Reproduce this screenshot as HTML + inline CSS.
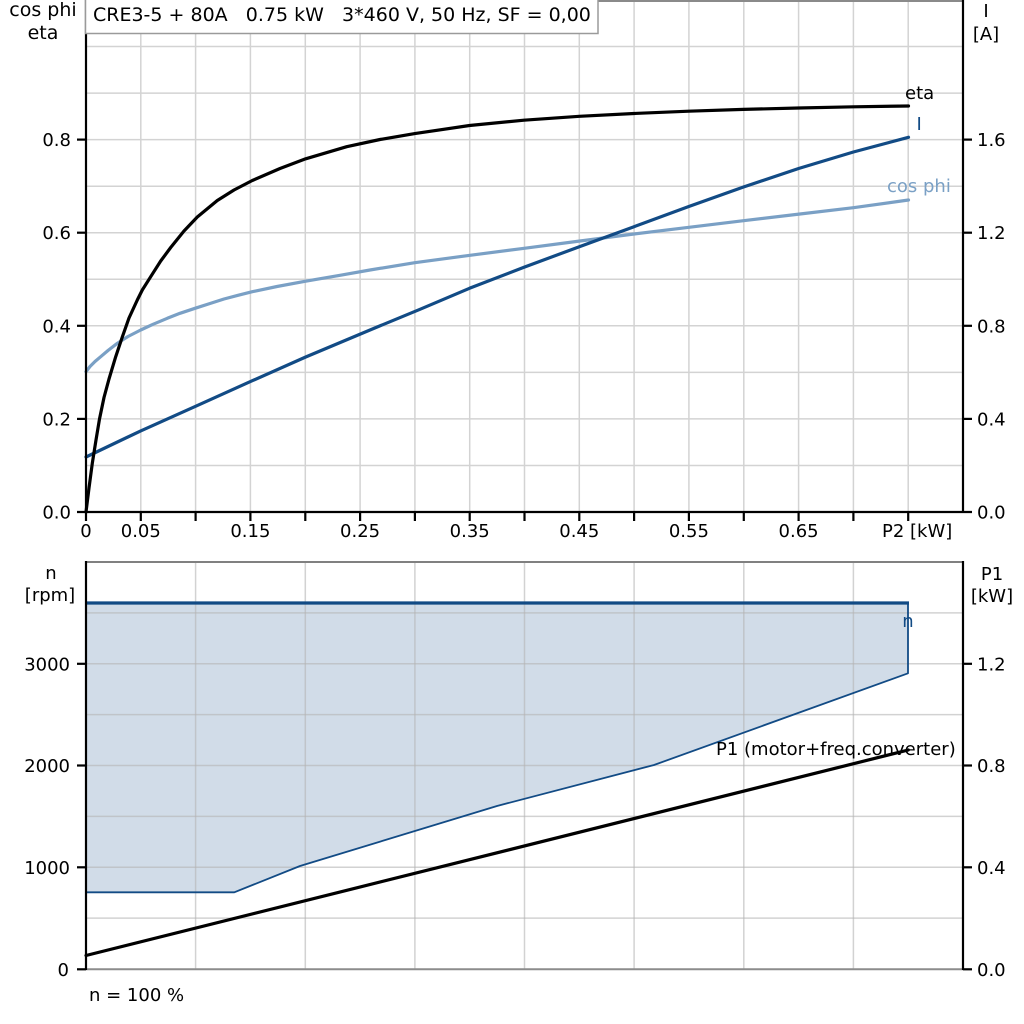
<!DOCTYPE html>
<html>
<head>
<meta charset="utf-8">
<style>
  html, body { margin:0; padding:0; background:#fff; }
  svg { display:block; }
  text { font-family: "DejaVu Sans", "Liberation Sans", sans-serif; font-size:18px; fill:#000; }
</style>
</head>
<body>
<svg width="1024" height="1024" viewBox="0 0 1024 1024" xmlns="http://www.w3.org/2000/svg">
  <rect x="0" y="0" width="1024" height="1024" fill="#fff"/>

  <!-- ================= TOP PANEL ================= -->
  <g stroke="#d3d3d3" stroke-width="1.5" fill="none">
    <line x1="140.8" y1="0" x2="140.8" y2="512"/>
    <line x1="195.6" y1="0" x2="195.6" y2="512"/>
    <line x1="250.4" y1="0" x2="250.4" y2="512"/>
    <line x1="305.3" y1="0" x2="305.3" y2="512"/>
    <line x1="360.1" y1="0" x2="360.1" y2="512"/>
    <line x1="414.9" y1="0" x2="414.9" y2="512"/>
    <line x1="469.7" y1="0" x2="469.7" y2="512"/>
    <line x1="524.5" y1="0" x2="524.5" y2="512"/>
    <line x1="579.3" y1="0" x2="579.3" y2="512"/>
    <line x1="634.1" y1="0" x2="634.1" y2="512"/>
    <line x1="688.9" y1="0" x2="688.9" y2="512"/>
    <line x1="743.8" y1="0" x2="743.8" y2="512"/>
    <line x1="798.6" y1="0" x2="798.6" y2="512"/>
    <line x1="853.4" y1="0" x2="853.4" y2="512"/>
    <line x1="908.2" y1="0" x2="908.2" y2="512"/>

    <line x1="86" y1="465.5" x2="963" y2="465.5"/>
    <line x1="86" y1="418.9" x2="963" y2="418.9"/>
    <line x1="86" y1="372.4" x2="963" y2="372.4"/>
    <line x1="86" y1="325.8" x2="963" y2="325.8"/>
    <line x1="86" y1="279.3" x2="963" y2="279.3"/>
    <line x1="86" y1="232.7" x2="963" y2="232.7"/>
    <line x1="86" y1="186.2" x2="963" y2="186.2"/>
    <line x1="86" y1="139.6" x2="963" y2="139.6"/>
    <line x1="86" y1="93.1" x2="963" y2="93.1"/>
    <line x1="86" y1="46.5" x2="963" y2="46.5"/>
  </g>
  <line x1="598" y1="1" x2="963" y2="1" stroke="#8a8a8a" stroke-width="2"/>

  <!-- cos phi -->
  <polyline fill="none" stroke="#7aa0c5" stroke-width="3.2" stroke-linejoin="round" stroke-linecap="round"
    points="86,371.7 90,366.5 95,361.5 100.7,356.7 108,350.5 117.3,343.3 128,336.5 140.7,330 153,324.3 167.3,318.3 180,313.3 195,308.3 210,303.5 224,299 238,295.3 252.3,291.7 277,286.5 305.7,281.2 340,275.3 370,270 414.8,262.7 470,255.3 524.2,248.3 580,241 634,234 690,227.2 743.5,220.7 800,214 853.4,207.7 908.5,200"/>

  <!-- I -->
  <polyline fill="none" stroke="#124b85" stroke-width="3.2" stroke-linejoin="round" stroke-linecap="round"
    points="86,457 140.7,430.9 195,406.6 252.3,380.7 305.7,357 370,330 420,309.3 469.5,288.3 524,267.3 579.3,246.7 634,226.7 688.8,206.5 743.5,187 798.6,168.5 853.4,152 908.5,137.3"/>

  <!-- eta -->
  <polyline fill="none" stroke="#000" stroke-width="3.2" stroke-linejoin="round" stroke-linecap="round"
    points="86,512 89,488 92.3,463.3 96,440 99.5,419 104,397.5 109,379 115.7,356.7 122.3,337 129,318 137.3,300 142.3,290 150.7,276.7 160.7,261 170.7,247.5 184,231 197.3,217 217.3,200.5 234,190 252.3,180.5 280,168.5 305.7,158.8 346.7,146.7 380,139.5 414.8,133.6 469.5,125.5 524,120.2 579.3,116.3 634,113.5 688.8,111.2 743.5,109.4 798.6,108 853.4,106.8 908.5,106"/>

  <!-- axes -->
  <g stroke="#000" stroke-width="2.2" fill="none">
    <line x1="86" y1="0" x2="86" y2="513"/>
    <line x1="963" y1="0" x2="963" y2="513"/>
    <line x1="77" y1="512" x2="972" y2="512"/>
    <line x1="77" y1="418.9" x2="86" y2="418.9"/>
    <line x1="77" y1="325.8" x2="86" y2="325.8"/>
    <line x1="77" y1="232.7" x2="86" y2="232.7"/>
    <line x1="77" y1="139.6" x2="86" y2="139.6"/>
    <line x1="963" y1="418.9" x2="972" y2="418.9"/>
    <line x1="963" y1="325.8" x2="972" y2="325.8"/>
    <line x1="963" y1="232.7" x2="972" y2="232.7"/>
    <line x1="963" y1="139.6" x2="972" y2="139.6"/>
    <line x1="86" y1="512" x2="86" y2="521"/>
    <line x1="140.8" y1="512" x2="140.8" y2="521"/>
    <line x1="195.6" y1="512" x2="195.6" y2="521"/>
    <line x1="250.4" y1="512" x2="250.4" y2="521"/>
    <line x1="305.3" y1="512" x2="305.3" y2="521"/>
    <line x1="360.1" y1="512" x2="360.1" y2="521"/>
    <line x1="414.9" y1="512" x2="414.9" y2="521"/>
    <line x1="469.7" y1="512" x2="469.7" y2="521"/>
    <line x1="524.5" y1="512" x2="524.5" y2="521"/>
    <line x1="579.3" y1="512" x2="579.3" y2="521"/>
    <line x1="634.1" y1="512" x2="634.1" y2="521"/>
    <line x1="688.9" y1="512" x2="688.9" y2="521"/>
    <line x1="743.8" y1="512" x2="743.8" y2="521"/>
    <line x1="798.6" y1="512" x2="798.6" y2="521"/>
    <line x1="853.4" y1="512" x2="853.4" y2="521"/>
    <line x1="908.2" y1="512" x2="908.2" y2="521"/>
  </g>

  <!-- title box -->
  <rect x="85.5" y="-1" width="512.5" height="34.5" fill="#fff" stroke="#9a9a9a" stroke-width="1.5"/>
  <text x="93" y="21" style="white-space:pre; font-size:19px">CRE3-5 + 80A   0.75 kW   3*460 V, 50 Hz, SF = 0,00</text>

  <!-- top panel axis titles -->
  <text x="43" y="16" text-anchor="middle" style="font-size:19px">cos phi</text>
  <text x="43" y="39" text-anchor="middle" style="font-size:19px">eta</text>
  <text x="986" y="17" text-anchor="middle">I</text>
  <text x="986" y="40" text-anchor="middle">[A]</text>

  <g text-anchor="end">
    <text x="71" y="518.5">0.0</text>
    <text x="71" y="425.4">0.2</text>
    <text x="71" y="332.3">0.4</text>
    <text x="71" y="239.2">0.6</text>
    <text x="71" y="146.1">0.8</text>
  </g>
  <g>
    <text x="977" y="518.5">0.0</text>
    <text x="977" y="425.4">0.4</text>
    <text x="977" y="332.3">0.8</text>
    <text x="977" y="239.2">1.2</text>
    <text x="977" y="146.1">1.6</text>
  </g>
  <g text-anchor="middle">
    <text x="86" y="537">0</text>
    <text x="140.8" y="537">0.05</text>
    <text x="250.4" y="537">0.15</text>
    <text x="360.1" y="537">0.25</text>
    <text x="469.7" y="537">0.35</text>
    <text x="579.3" y="537">0.45</text>
    <text x="688.9" y="537">0.55</text>
    <text x="798.6" y="537">0.65</text>
  </g>
  <text x="882" y="537">P2 [kW]</text>

  <text x="905" y="99">eta</text>
  <text x="916.5" y="130" style="fill:#124b85">I</text>
  <text x="887" y="192" style="fill:#7aa0c5">cos phi</text>

  <!-- ================= BOTTOM PANEL ================= -->
  <polygon fill="#d1dce8" stroke="none"
    points="86,603 908,603 908,673.3 654,765 497,806 300,866 234.3,892.3 86,892.3"/>

  <g stroke="#b4b4b4" stroke-opacity="0.6" stroke-width="1.5" fill="none">
    <line x1="195.6" y1="562" x2="195.6" y2="969"/>
    <line x1="305.3" y1="562" x2="305.3" y2="969"/>
    <line x1="414.9" y1="562" x2="414.9" y2="969"/>
    <line x1="524.5" y1="562" x2="524.5" y2="969"/>
    <line x1="634.1" y1="562" x2="634.1" y2="969"/>
    <line x1="743.8" y1="562" x2="743.8" y2="969"/>
    <line x1="853.4" y1="562" x2="853.4" y2="969"/>

    <line x1="86" y1="918.1" x2="963" y2="918.1"/>
    <line x1="86" y1="867.3" x2="963" y2="867.3"/>
    <line x1="86" y1="816.4" x2="963" y2="816.4"/>
    <line x1="86" y1="765.5" x2="963" y2="765.5"/>
    <line x1="86" y1="714.6" x2="963" y2="714.6"/>
    <line x1="86" y1="663.8" x2="963" y2="663.8"/>
    <line x1="86" y1="612.9" x2="963" y2="612.9"/>
  </g>

  <polyline fill="none" stroke="#124b85" stroke-width="1.8" stroke-linejoin="round"
    points="86,892.3 234.3,892.3 300,866 497,806 654,765 908,673.3 908,603"/>
  <line x1="86" y1="603" x2="909" y2="603" stroke="#124b85" stroke-width="3.2"/>

  <line x1="86" y1="955.5" x2="908.3" y2="750" stroke="#000" stroke-width="3.2" stroke-linecap="round"/>

  <line x1="86" y1="562" x2="963" y2="562" stroke="#808080" stroke-width="2"/>
  <line x1="86" y1="969.3" x2="963" y2="969.3" stroke="#8c8c8c" stroke-width="2"/>
  <g stroke="#000" stroke-width="2.2">
    <line x1="86" y1="561" x2="86" y2="970"/>
    <line x1="963" y1="561" x2="963" y2="970"/>
    <line x1="77" y1="969.3" x2="86" y2="969.3"/>
    <line x1="77" y1="867.3" x2="86" y2="867.3"/>
    <line x1="77" y1="765.5" x2="86" y2="765.5"/>
    <line x1="77" y1="663.8" x2="86" y2="663.8"/>
    <line x1="963" y1="969.3" x2="972" y2="969.3"/>
    <line x1="963" y1="867.3" x2="972" y2="867.3"/>
    <line x1="963" y1="765.5" x2="972" y2="765.5"/>
    <line x1="963" y1="663.8" x2="972" y2="663.8"/>
  </g>

  <text x="51" y="579" text-anchor="middle">n</text>
  <text x="50" y="601" text-anchor="middle">[rpm]</text>
  <text x="992" y="580" text-anchor="middle">P1</text>
  <text x="992" y="602" text-anchor="middle">[kW]</text>

  <g text-anchor="end">
    <text x="69" y="975.8">0</text>
    <text x="70" y="873.8">1000</text>
    <text x="70" y="772">2000</text>
    <text x="70" y="670.3">3000</text>
  </g>
  <g>
    <text x="977" y="975.8">0.0</text>
    <text x="977" y="873.8">0.4</text>
    <text x="977" y="772">0.8</text>
    <text x="977" y="670.3">1.2</text>
  </g>

  <text x="908" y="627" text-anchor="middle" style="fill:#124b85">n</text>
  <text x="716" y="755">P1 (motor+freq.converter)</text>

  <text x="89" y="1001" style="white-space:pre">n = 100 %</text>
</svg>
</body>
</html>
